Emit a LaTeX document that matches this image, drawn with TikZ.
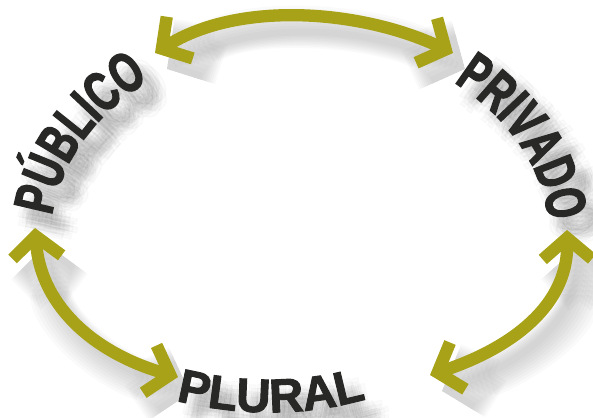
\documentclass[tikz,border=0pt]{standalone}
\usepackage{fontspec}
\usetikzlibrary{arrows.meta,decorations.text,calc}
\newfontfamily\wordfont{Liberation Sans Bold}[FakeStretch=0.68, FakeBold=2.5]
\newfontfamily\widefont{Liberation Sans Bold}[FakeBold=2]
\newcommand\bigword{\wordfont\fontsize{32}{38}\selectfont}
\newcommand\smallword{\widefont\fontsize{27}{32}\selectfont}
\definecolor{arrowolive}{RGB}{168,162,24}
\definecolor{wordgray}{RGB}{40,40,38}
\tikzset{
  link/.style={draw=arrowolive, line width=7pt, >={Straight Barb[length=12pt,width=28pt]}, <->},
  linkshadow/.style={link, draw=black, draw opacity=0.02},
}
% the three words along the ring
\newcommand\ringwords[1]{%
  \path[decorate, decoration={text along path, text={|\bigword|PÚBLICO}, text color=#1, text align=left}]
    ([shift={(187:250 and 200)}]300,240) arc[start angle=187, end angle=268, x radius=250, y radius=200];
  \path[decorate, decoration={text along path, text={|\bigword|PRIVADO}, text color=#1, text align=left}]
    ([shift={(308:250 and 200)}]300,240) arc[start angle=308, end angle=375, x radius=250, y radius=200];
  \path[decorate, decoration={text along path, text={|\smallword|PLURAL}, text color=#1, text align=center}]
    (160,396) .. controls (228,417) and (310,419) .. (382,394);
}
\begin{document}
\begin{tikzpicture}[x=0.02cm, y=-0.02cm]
  \useasboundingbox (0,0) rectangle (593,417);
  % arrow ends
  \coordinate (pubTop) at (155,53);
  \coordinate (privTop) at (453,53);
  \coordinate (pubBot) at (35,228);
  \coordinate (plurL) at (178,377);
  \coordinate (privBot) at (567,230);
  \coordinate (plurR) at (430,375);
  % soft shadows
  \foreach \k in {0,...,8} {
    \begin{scope}[transform canvas={shift={(12,16)}}]
      \draw[linkshadow, line width=4pt+2.5pt*\k] (pubTop) .. controls (240,0) and (362,10) .. (privTop);
      \draw[linkshadow, line width=4pt+2.5pt*\k] (pubBot) .. controls (41,310) and (100,355) .. (plurL);
      \draw[linkshadow, line width=4pt+2.5pt*\k] (privBot) .. controls (568,312) and (500,352) .. (plurR);
    \end{scope}
  }
  \foreach \r in {3,7,11} {
    \foreach \a in {0,45,...,315} {
      \begin{scope}[transform canvas={shift={($(14,16)+(\a+\r*10:\r)$)}}, opacity=0.014]
        \ringwords{black}
      \end{scope}
    }
  }
  % arrows
  \draw[link] (pubTop) .. controls (240,0) and (362,10) .. (privTop);
  \draw[link] (pubBot) .. controls (41,310) and (100,355) .. (plurL);
  \draw[link] (privBot) .. controls (568,312) and (500,352) .. (plurR);
  % words
  \ringwords{wordgray}
\end{tikzpicture}
\end{document}
